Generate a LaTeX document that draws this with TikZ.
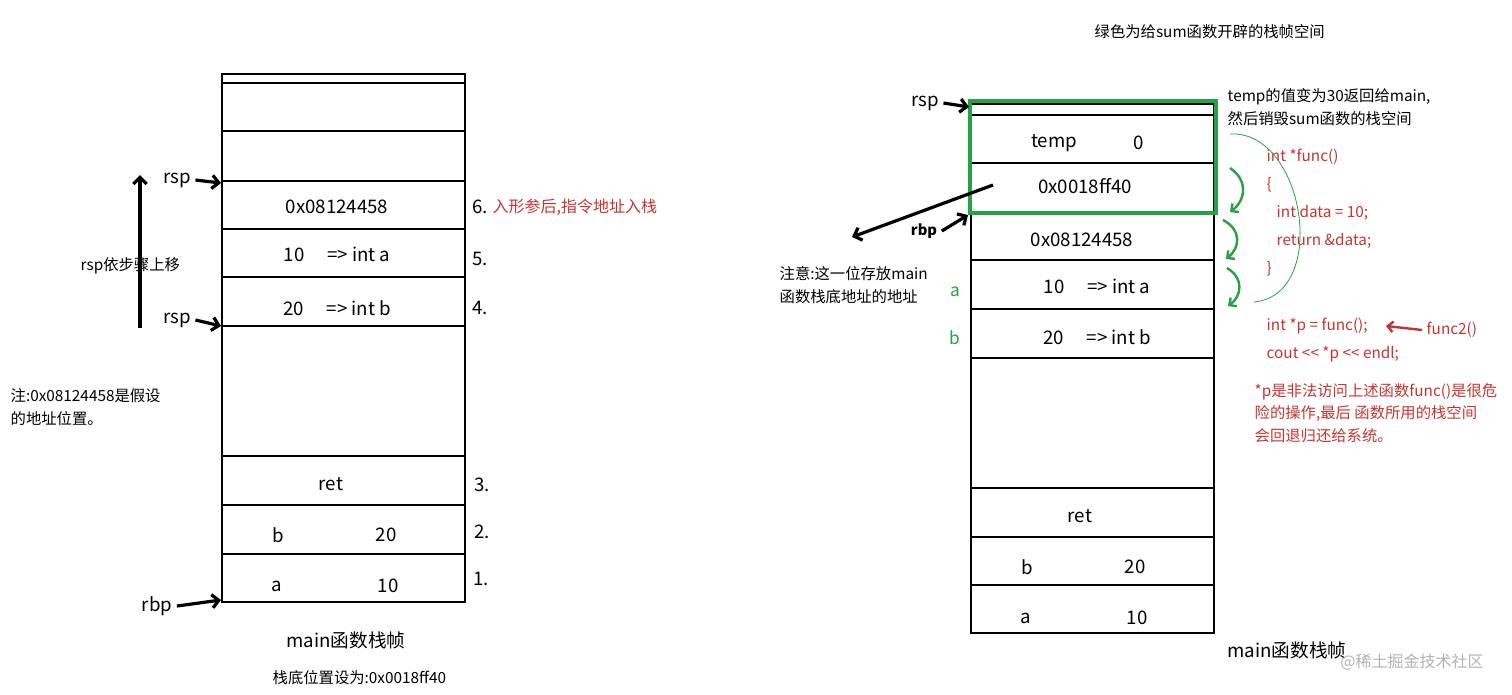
\documentclass[tikz,border=0pt]{standalone}
\usepackage{fontspec}
\setmainfont{Noto Sans CJK SC}
\usetikzlibrary{arrows.meta}
\definecolor{gr}{RGB}{40,160,70}
\definecolor{rd}{RGB}{200,50,50}
\begin{document}
\begin{tikzpicture}[x=0.75pt,y=-0.75pt,
  big/.style={font=\fontsize{14}{16}\selectfont},
  sm/.style={font=\fontsize{11.5}{13}\selectfont,anchor=west},
  red/.style={sm,text=rd},
  ln/.style={line width=0.8pt},
  bk/.style={line width=2.4pt,-{Straight Barb[length=5pt,width=10pt]}},
  ga/.style={gr,line width=1.8pt,-{Straight Barb[length=4pt,width=8pt]}}]
\useasboundingbox (0,0) rectangle (1512,694);
% left stack
\draw[ln] (222,74) rectangle (465,602);
\foreach \y in {83,131,181,229,277,326,456,505,554}
  \draw[ln] (222,\y) -- (465,\y);
\node[big] (l6) at (337,207) {0x08124458};
\node[big] (l5) at (337,254) {10\quad\ => int a};
\node[big] (l4) at (337,308) {20\quad\ => int b};
\node[big] (lr) at (331,484) {ret};
\node[big] (lb) at (278,535) {b};\node[big] (lb2) at (386,535) {20};
\node[big] (la) at (277,586) {a};\node[big] (la2) at (388,586) {10};
\node[big] (n6) at (480,207) {6.};
\node[red,font=\fontsize{12}{14}\selectfont] (t6) at (488,207) {入形参后,指令地址入栈};
\node[big] (n5) at (480,259) {5.};
\node[big] (n4) at (480,308) {4.};
\node[big] (n3) at (482,485) {3.};
\node[big] (n2) at (482,532) {2.};
\node[big] (n1) at (481,579) {1.};
\node[big] (rsp1) at (177,180) {rsp};
\node[big] (rsp2) at (177,320) {rsp};
\node[big] (rbp1) at (157,606) {rbp};
\coordinate (a1) at (221,183); \coordinate (a2) at (221,326); \coordinate (a3) at (221,600);
\draw[bk] (rsp1.east) -- (a1);
\draw[bk] (rsp2.east) -- (a2);
\draw[bk] (rbp1.east) -- (a3);
\coordinate (u1) at (140,328); \coordinate (u2) at (140,175);
\draw[bk] (u1) -- (u2);
\node[sm] (mv) at (76,266) {rsp依步骤上移};
\node[sm,align=left] (note1) at (6,407) {注:0x08124458是假设\\[4pt]的地址位置。};
\node[big] (cap1) at (346,640) {main函数栈帧};
\node[sm] (cap1b) at (268,678) {栈底位置设为:0x0018ff40};
% right stack
\node[sm] (title) at (1090,32) {绿色为给sum函数开辟的栈帧空间};
\draw[ln] (971,104) rectangle (1214,633);
\foreach \y in {115,163,260,309,358,488,537,585}
  \draw[ln] (971,\y) -- (1214,\y);
\draw[gr,line width=2.5pt] (970,101) rectangle (1216,213);
\node[big] (tp) at (1054,143) {temp};\node[big] (tp0) at (1139,143) {0};
\node[big] (ad) at (1085,186) {0x0018ff40};
\node[big] (r6) at (1082,240) {0x08124458};
\node[big] (r5) at (1097,286) {10\quad\ => int a};
\node[big] (r4) at (1097,337) {20\quad\ => int b};
\node[big] (rr) at (1080,516) {ret};
\node[big] (rb) at (1027,567) {b};\node[big] (rb2) at (1135,567) {20};
\node[big] (ra) at (1026,618) {a};\node[big] (ra2) at (1137,618) {10};
\node[big] (cap2) at (1287,650) {main函数栈帧};
\node[text=gray!60,font=\fontsize{12}{14}\selectfont] (wm) at (1412,662) {@稀土掘金技术社区};
\node[big] (rsp3) at (925,103) {rsp};
\node[font=\bfseries\fontsize{11}{13}\selectfont] (rbp3) at (924,231) {rbp};
\coordinate (b1) at (969,107); \coordinate (b2) at (968,215);
\draw[bk] (rsp3.east) -- (b1);
\draw[bk] (rbp3.east) -- (b2);
\coordinate (lf) at (852,237);
\draw[bk] (993,185) -- (lf);
\node[sm,align=left] (note2) at (775,285) {注意:这一位存放main\\[4pt]函数栈底地址的地址};
\node[text=gr,font=\fontsize{13}{13}\selectfont] (ga) at (955,292) {a};
\node[text=gr,font=\fontsize{13}{13}\selectfont] (gb) at (955,338) {b};
\node[sm,align=left] (ret) at (1223,107) {temp的值变为30返回给main,\\[4pt]然后销毁sum函数的栈空间};
\node[red] (c1) at (1262,157) {int *func()};
\node[red] (c2) at (1262,185) {\{};
\node[red] (c3) at (1272,213) {int data = 10;};
\node[red] (c4) at (1272,241) {return \&data;};
\node[red] (c5) at (1262,269) {\}};
\node[red] (c6) at (1262,326) {int *p = func();};
\node[red] (c7) at (1262,354) {cout {<}{<} *p {<}{<} endl;};
\node[red] (f2) at (1422,330) {func2()};
\draw[rd,line width=1.8pt,-{Straight Barb[length=4pt,width=8pt]}] (f2.west) -- (1386,326);
\node[red,align=left] (c8) at (1250,413) {*p是非法访问上述函数func()是很危\\[4pt]险的操作,最后 函数所用的栈空间\\[4pt]会回退归还给系统。};
\draw[ga] (1230,168) .. controls (1248,180) and (1246,200) .. (1230,212);
\draw[ga] (1223,220) .. controls (1242,230) and (1240,248) .. (1226,259);
\draw[ga] (1227,268) .. controls (1244,278) and (1242,296) .. (1228,306);
\draw[gr,line width=0.6pt] (1254,302) .. controls (1330,295) and (1305,130) .. (1230,134);
\end{tikzpicture}
\end{document}
